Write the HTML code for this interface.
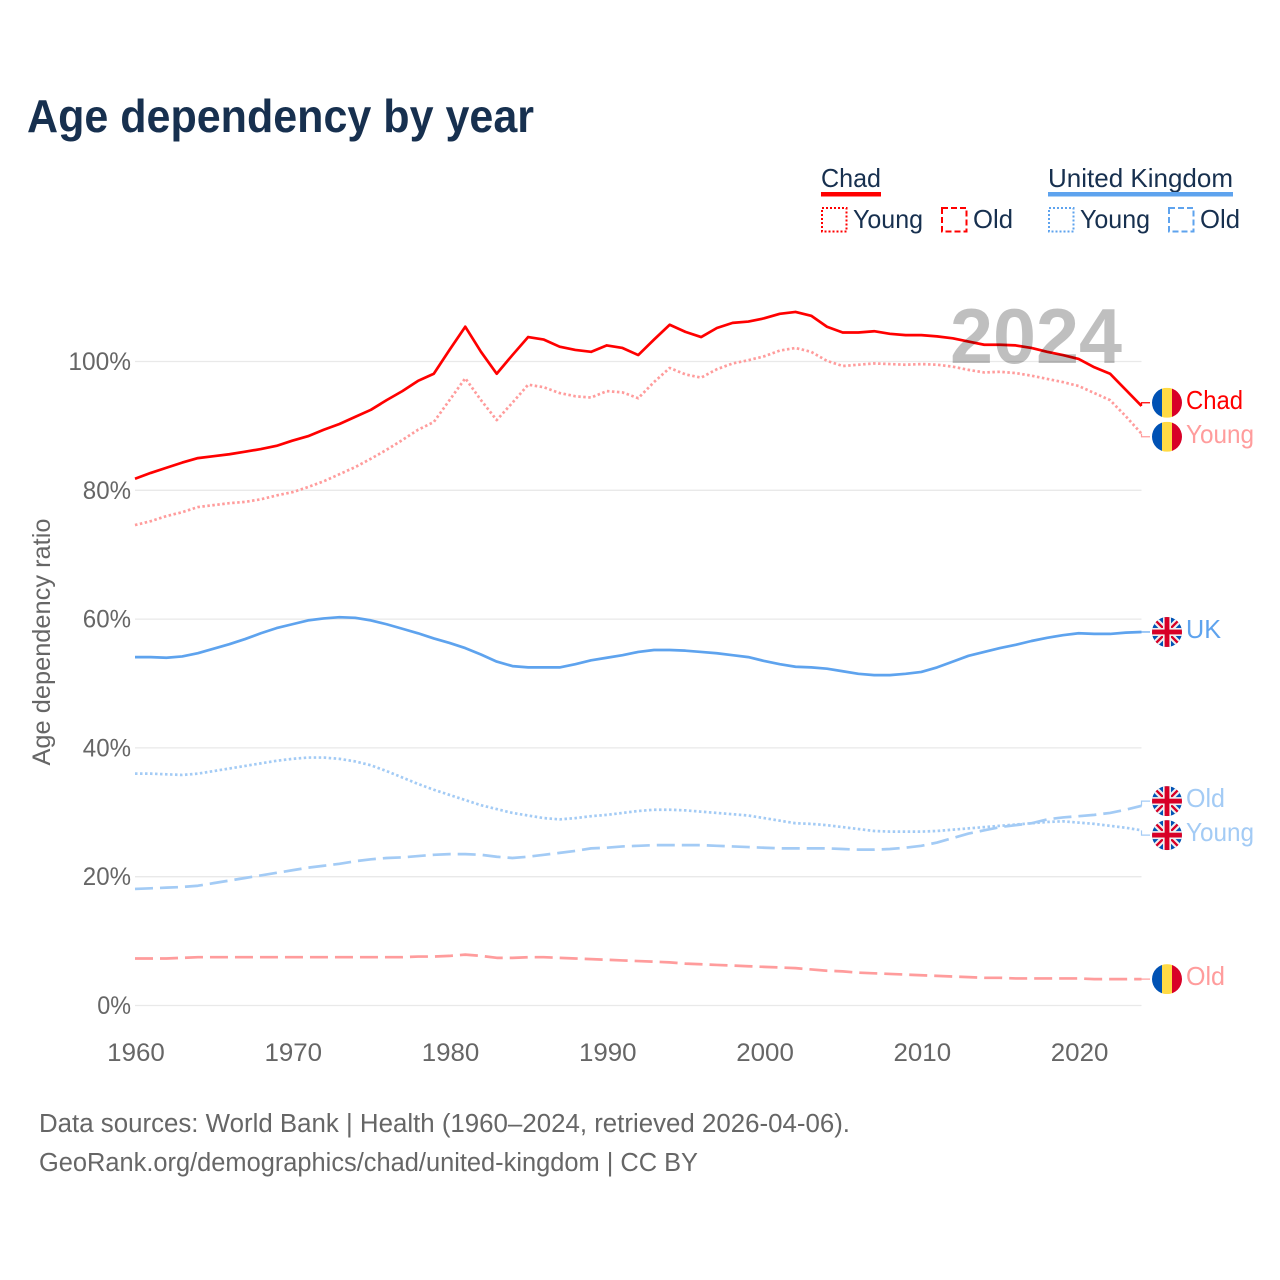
<!DOCTYPE html>
<html lang="en">
<head>
<meta charset="utf-8">
<title>Age dependency by year</title>
<style>
html,body{margin:0;padding:0;background:#fff;width:1280px;height:1280px;overflow:hidden}
svg{display:block;font-family:"Liberation Sans",sans-serif}
</style>
</head>
<body>
<svg id="chart" xmlns="http://www.w3.org/2000/svg" width="1280" height="1280" viewBox="0 0 1280 1280">
  <defs>
    <clipPath id="flag-clip"><circle cx="15" cy="15" r="15"/></clipPath>
    <symbol id="flag-chad" viewBox="0 0 30 30" width="30" height="30">
      <g clip-path="url(#flag-clip)">
        <rect x="0" y="0" width="10" height="30" fill="#0052b4"/>
        <rect x="10" y="0" width="10" height="30" fill="#ffda44"/>
        <rect x="20" y="0" width="10" height="30" fill="#d80027"/>
      </g>
    </symbol>
    <symbol id="flag-uk" viewBox="0 0 30 30" width="30" height="30">
      <g clip-path="url(#flag-clip)">
        <rect x="0" y="0" width="30" height="30" fill="#0052b4"/>
        <path d="M0 0L30 30M30 0L0 30" stroke="#f0f0f0" stroke-width="6.5"/>
        <path d="M0 0L30 30M30 0L0 30" stroke="#d80027" stroke-width="2.4"/>
        <rect x="11" y="0" width="8" height="30" fill="#f0f0f0"/>
        <rect x="0" y="11" width="30" height="8" fill="#f0f0f0"/>
        <rect x="12.6" y="0" width="4.8" height="30" fill="#d80027"/>
        <rect x="0" y="12.6" width="30" height="4.8" fill="#d80027"/>
      </g>
    </symbol>
  </defs>

  <text x="27" y="132" font-size="46" font-weight="700" fill="#17304f" textLength="507" lengthAdjust="spacingAndGlyphs">Age dependency by year</text>

  <g fill="#17304f" font-size="26">
    <text x="821" y="187" textLength="60" lengthAdjust="spacingAndGlyphs">Chad</text>
    <rect x="821" y="192" width="60" height="4.5" fill="#ff0000"/>
    <rect x="822" y="208" width="24.5" height="23.5" fill="none" stroke="#ff0000" stroke-width="2" stroke-dasharray="2 2"/>
    <text x="853" y="228" textLength="70" lengthAdjust="spacingAndGlyphs">Young</text>
    <rect x="942" y="208" width="24.5" height="23.5" fill="none" stroke="#ff0000" stroke-width="2" stroke-dasharray="6 3"/>
    <text x="973" y="228" textLength="40" lengthAdjust="spacingAndGlyphs">Old</text>

    <text x="1048" y="187" textLength="185" lengthAdjust="spacingAndGlyphs">United Kingdom</text>
    <rect x="1048" y="192" width="185" height="4.5" fill="#5ea3ee"/>
    <rect x="1049" y="208" width="24.5" height="23.5" fill="none" stroke="#5ea3ee" stroke-width="2" stroke-dasharray="2 2"/>
    <text x="1080" y="228" textLength="70" lengthAdjust="spacingAndGlyphs">Young</text>
    <rect x="1169" y="208" width="24.5" height="23.5" fill="none" stroke="#5ea3ee" stroke-width="2" stroke-dasharray="6 3"/>
    <text x="1200" y="228" textLength="40" lengthAdjust="spacingAndGlyphs">Old</text>
  </g>

  <g id="grid"></g>
  <g id="y-ticks"></g>
  <g id="x-ticks"></g>
  <text transform="translate(50 642) rotate(-90)" text-anchor="middle" font-size="25" fill="#666666" textLength="247" lengthAdjust="spacingAndGlyphs">Age dependency ratio</text>

  <g id="series"></g>
  <g id="end-labels"></g>

  <text id="year-watermark" x="950" y="363" font-size="78" font-weight="700" fill="#000000" fill-opacity="0.25" textLength="172" lengthAdjust="spacingAndGlyphs">2024</text>

  <text x="39" y="1132" font-size="25.5" fill="#666666" textLength="811" lengthAdjust="spacingAndGlyphs">Data sources: World Bank | Health (1960–2024, retrieved 2026-04-06).</text>
  <text x="39" y="1171" font-size="25.5" fill="#666666" textLength="659" lengthAdjust="spacingAndGlyphs">GeoRank.org/demographics/chad/united-kingdom | CC BY</text>
</svg>

<script>
const firstYear = 1960;
const lastYear = 2024;
const yTickValues = [0, 20, 40, 60, 80, 100];
const xTickValues = [1960, 1970, 1980, 1990, 2000, 2010, 2020];

const chadTotal = [
  81.8,82.7,83.5,84.3,85.0,85.3,85.6,86.0,86.4,86.9,
  87.7,88.4,89.4,90.3,91.4,92.5,94.0,95.4,97.0,98.1,
  101.8,105.4,101.5,98.1,101.0,103.8,103.4,102.3,101.8,101.5,
  102.5,102.1,101.0,103.4,105.7,104.6,103.8,105.2,106.0,106.2,
  106.7,107.4,107.7,107.1,105.4,104.5,104.5,104.7,104.3,104.1,
  104.1,103.9,103.6,103.1,102.6,102.6,102.5,102.1,101.5,101.0,
  100.4,99.1,98.1,95.6,93.1
];
const chadYoung = [
  74.6,75.2,76.0,76.6,77.4,77.7,78.0,78.2,78.6,79.2,
  79.7,80.5,81.4,82.5,83.6,84.9,86.3,87.8,89.4,90.6,
  94.0,97.4,94.0,90.9,93.6,96.4,96.0,95.1,94.6,94.4,
  95.4,95.2,94.3,96.8,99.0,98.0,97.5,98.8,99.7,100.2,
  100.8,101.7,102.1,101.5,100.1,99.3,99.5,99.7,99.6,99.5,
  99.6,99.5,99.2,98.7,98.3,98.4,98.2,97.8,97.3,96.8,
  96.2,95.1,94.0,91.5,88.8
];
const chadOld = [
  7.3,7.3,7.3,7.4,7.5,7.5,7.5,7.5,7.5,7.5,
  7.5,7.5,7.5,7.5,7.5,7.5,7.5,7.5,7.6,7.6,
  7.7,7.9,7.7,7.4,7.4,7.5,7.5,7.4,7.3,7.2,
  7.1,7.0,6.9,6.8,6.7,6.5,6.4,6.3,6.2,6.1,
  6.0,5.9,5.8,5.6,5.4,5.3,5.1,5.0,4.9,4.8,
  4.7,4.6,4.5,4.4,4.3,4.3,4.2,4.2,4.2,4.2,
  4.2,4.1,4.1,4.1,4.1
];
const ukTotal = [
  54.1,54.1,54.0,54.2,54.7,55.4,56.1,56.9,57.8,58.6,
  59.2,59.8,60.1,60.3,60.2,59.8,59.2,58.5,57.8,57.0,
  56.3,55.5,54.5,53.4,52.7,52.5,52.5,52.5,53.0,53.6,
  54.0,54.4,54.9,55.2,55.2,55.1,54.9,54.7,54.4,54.1,
  53.5,53.0,52.6,52.5,52.3,51.9,51.5,51.3,51.3,51.5,
  51.8,52.5,53.4,54.3,54.9,55.5,56.0,56.6,57.1,57.5,
  57.8,57.7,57.7,57.9,58.0
];
const ukYoung = [
  36.0,36.0,35.9,35.8,36.0,36.4,36.8,37.2,37.6,38.0,
  38.3,38.5,38.5,38.3,37.9,37.3,36.4,35.4,34.4,33.5,
  32.7,31.9,31.1,30.5,29.9,29.5,29.1,28.9,29.1,29.4,
  29.6,29.9,30.2,30.4,30.4,30.3,30.1,29.9,29.7,29.5,
  29.1,28.7,28.3,28.2,28.0,27.7,27.4,27.1,27.0,27.0,
  27.0,27.1,27.3,27.5,27.7,27.9,28.1,28.3,28.5,28.6,
  28.4,28.2,27.9,27.6,27.2
];
const ukOld = [
  18.1,18.2,18.3,18.4,18.6,19.0,19.4,19.8,20.2,20.6,
  21.0,21.4,21.7,22.0,22.4,22.7,22.9,23.0,23.2,23.4,
  23.5,23.5,23.4,23.1,22.9,23.1,23.4,23.7,24.0,24.4,
  24.5,24.7,24.8,24.9,24.9,24.9,24.9,24.8,24.7,24.6,
  24.5,24.4,24.4,24.4,24.4,24.3,24.2,24.2,24.3,24.5,
  24.8,25.3,26.0,26.7,27.2,27.7,28.0,28.3,28.9,29.2,
  29.4,29.6,29.9,30.4,31.0
];

const NS = 'http://www.w3.org/2000/svg';
const plotLeft = 135, plotRight = 1141.5, plotZero = 1005.5, pxPerUnit = 6.44;
function xScale(year) { return plotLeft + (year - firstYear) * (plotRight - plotLeft) / (lastYear - firstYear); }
function yScale(value) { return plotZero - value * pxPerUnit; }
function make(tag, attrs, parent) {
  const el = document.createElementNS(NS, tag);
  for (const key in attrs) el.setAttribute(key, attrs[key]);
  parent.appendChild(el);
  return el;
}

const gridGroup = document.getElementById('grid');
const yTickGroup = document.getElementById('y-ticks');
yTickValues.forEach(function (v) {
  const line = make('line', { x1: plotLeft, x2: plotRight, y1: yScale(v), y2: yScale(v), stroke: '#e9e9e9', 'stroke-width': 1.3 }, gridGroup);
  
  
  const label = v + '%';
  const t = make('text', { x: 131, y: yScale(v) + 8.5, 'text-anchor': 'end', 'font-size': 25, fill: '#666666', textLength: label.length * 14.4 + 5, lengthAdjust: 'spacingAndGlyphs' }, yTickGroup);
  t.textContent = label;
  
  
});

const xTickGroup = document.getElementById('x-ticks');
xTickValues.forEach(function (year) {
  const t = make('text', { x: xScale(year) + 1, y: 1061, 'text-anchor': 'middle', 'font-size': 25, fill: '#666666', textLength: 57.6, lengthAdjust: 'spacingAndGlyphs' }, xTickGroup);
  t.textContent = String(year);
  
  
});

const seriesList = [
  { key: 'chad-total', values: chadTotal, color: '#ff0000', dash: '', label: 'Chad', flag: 'flag-chad' },
  { key: 'chad-young', values: chadYoung, color: '#ff9c9c', dash: '2.5 2.5', label: 'Young', flag: 'flag-chad' },
  { key: 'chad-old', values: chadOld, color: '#ff9c9c', dash: '18 7', label: 'Old', flag: 'flag-chad' },
  { key: 'uk-total', values: ukTotal, color: '#5ea3ee', dash: '', label: 'UK', flag: 'flag-uk' },
  { key: 'uk-young', values: ukYoung, color: '#a3cbf5', dash: '2.5 2.5', label: 'Young', flag: 'flag-uk' },
  { key: 'uk-old', values: ukOld, color: '#a3cbf5', dash: '18 7', label: 'Old', flag: 'flag-uk' }
];

const seriesGroup = document.getElementById('series');
seriesList.forEach(function (s) {
  const d = s.values.map(function (v, i) {
    return (i ? 'L' : 'M') + xScale(firstYear + i).toFixed(2) + ' ' + yScale(v).toFixed(2);
  }).join('');
  const path = make('path', { d: d, fill: 'none', stroke: s.color, 'stroke-width': 2.7, 'stroke-linejoin': 'round' }, seriesGroup);
  if (s.dash) path.setAttribute('stroke-dasharray', s.dash);
  
  
});

/* Separate end labels that would collide (minimum spacing 34px). */
const minGap = 34;
const placed = seriesList.map(function (s) {
  const endY = yScale(s.values[s.values.length - 1]);
  return { s: s, endY: endY, labelY: endY };
}).sort(function (a, b) { return a.endY - b.endY; });
for (let pass = 0; pass < 8; pass++) {
  for (let i = 1; i < placed.length; i++) {
    const gap = placed[i].labelY - placed[i - 1].labelY;
    if (gap < minGap) {
      const shift = (minGap - gap) / 2;
      placed[i - 1].labelY -= shift;
      placed[i].labelY += shift;
    }
  }
}

const labelGroup = document.getElementById('end-labels');
const labelWidths = { Chad: 57, Young: 68, UK: 35, Old: 39 };
placed.forEach(function (p) {
  const connector = make('path', { d: 'M' + plotRight + ' ' + p.endY.toFixed(2) + 'V' + p.labelY.toFixed(2) + 'H1150', fill: 'none', stroke: p.s.color, 'stroke-width': 1.2 }, labelGroup);
  
  
  const flag = make('use', { href: '#' + p.s.flag, x: 1152, y: p.labelY - 15, width: 30, height: 30 }, labelGroup);
  
  
  const text = make('text', { x: 1186, y: p.labelY + 6, 'font-size': 26, fill: p.s.color, textLength: labelWidths[p.s.label], lengthAdjust: 'spacingAndGlyphs' }, labelGroup);
  text.textContent = p.s.label;
  
  
});
</script>
</body>
</html>
